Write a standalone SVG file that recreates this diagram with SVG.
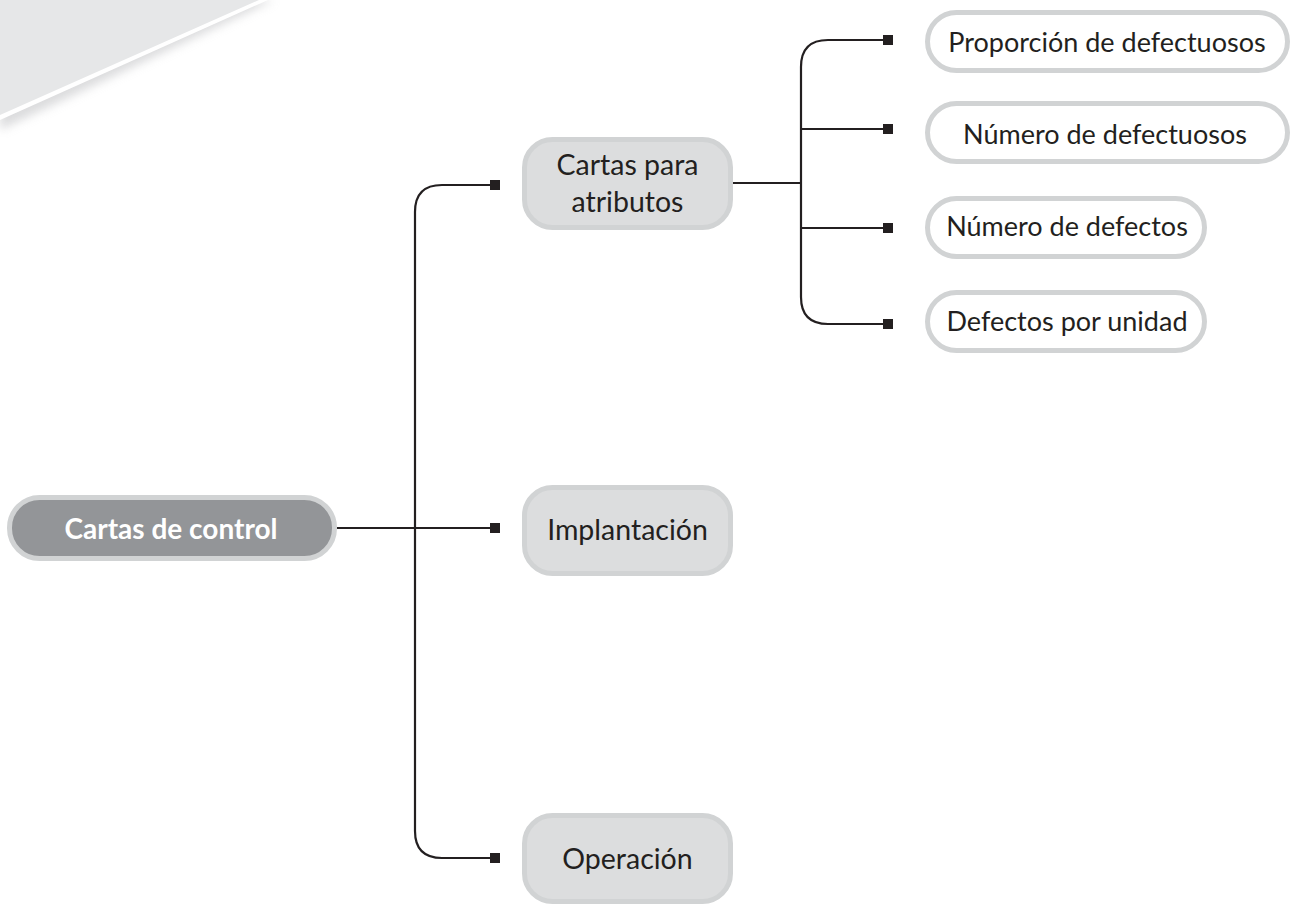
<svg xmlns="http://www.w3.org/2000/svg" width="1292" height="907" viewBox="0 0 1292 907">
<defs>
<style>
.root{fill:#939598;stroke:#d1d3d4;stroke-width:5}
.mid{fill:#dcddde;stroke:#d1d3d4;stroke-width:5}
.leaf{fill:#ffffff;stroke:#d1d3d4;stroke-width:5}
.t{font-family:Lato,"Open Sans","Liberation Sans",sans-serif;font-size:27px;fill:#231f20;text-anchor:middle}
.tm{font-family:Lato,"Open Sans","Liberation Sans",sans-serif;font-size:28.5px;fill:#231f20;text-anchor:middle}
.tr{font-family:Lato,"Open Sans","Liberation Sans",sans-serif;font-size:28px;font-weight:bold;fill:#ffffff;text-anchor:middle}
.c{fill:none;stroke:#231f20;stroke-width:2.2}
.sq{fill:#231f20}
</style>
<filter id="sh" x="-20%" y="-20%" width="140%" height="160%"><feGaussianBlur stdDeviation="5"/></filter>
</defs>
<g id="corner">
<polygon points="0,0 274,0 0,130" fill="#c4c5c7" filter="url(#sh)" opacity="0.6"/>
<polygon points="0,0 268,0 0,120" fill="#ffffff"/>
<polygon points="0,0 259,0 0,115" fill="#e6e7e8"/>
</g>
<g id="connectors">
<path class="c" d="M337,528 H495"/>
<path class="c" d="M495,185 H442 Q415,185 415,212 V831 Q415,858 442,858 H495"/>
<path class="c" d="M733,183 H800"/>
<path class="c" d="M888,40 H828 Q801,40 801,67 V297 Q801,324 828,324 H888"/>
<path class="c" d="M801,129 H888"/>
<path class="c" d="M801,228 H888"/>
<rect class="sq" x="490" y="180" width="10" height="10"/>
<rect class="sq" x="490" y="523" width="10" height="10"/>
<rect class="sq" x="490" y="853" width="10" height="10"/>
<rect class="sq" x="883" y="35" width="10" height="10"/>
<rect class="sq" x="883" y="124" width="10" height="10"/>
<rect class="sq" x="883" y="223" width="10" height="10"/>
<rect class="sq" x="883" y="319" width="10" height="10"/>
</g>
<g id="n-cartas-de-control">
<rect class="root" x="9.5" y="497.5" width="325" height="61" rx="30"/>
<text class="tr" x="171" y="539">Cartas de control</text>
</g>
<g id="n-cartas-para-atributos">
<rect class="mid" x="524.5" y="139.5" width="206" height="88" rx="28"/>
<text class="tm" x="627.5" y="175">Cartas para</text>
<text class="tm" x="627.5" y="212">atributos</text>
</g>
<g id="n-implantacion">
<rect class="mid" x="524.5" y="487.5" width="206" height="86" rx="28"/>
<text class="tm" x="627.5" y="540">Implantación</text>
</g>
<g id="n-operacion">
<rect class="mid" x="524.5" y="815.5" width="206" height="86" rx="28"/>
<text class="tm" x="627.5" y="869">Operación</text>
</g>
<g id="n-proporcion">
<rect class="leaf" x="927.5" y="12.5" width="360" height="58" rx="29"/>
<text class="t" x="1107" y="52">Proporción de defectuosos</text>
</g>
<g id="n-numero-defectuosos">
<rect class="leaf" x="927.5" y="103.5" width="360" height="58" rx="29"/>
<text class="t" x="1105" y="144">Número de defectuosos</text>
</g>
<g id="n-numero-defectos">
<rect class="leaf" x="927.5" y="198.5" width="277" height="58" rx="29"/>
<text class="t" x="1067" y="236">Número de defectos</text>
</g>
<g id="n-defectos-unidad">
<rect class="leaf" x="927.5" y="292.5" width="277" height="58" rx="29"/>
<text class="t" x="1067" y="331">Defectos por unidad</text>
</g>
</svg>
